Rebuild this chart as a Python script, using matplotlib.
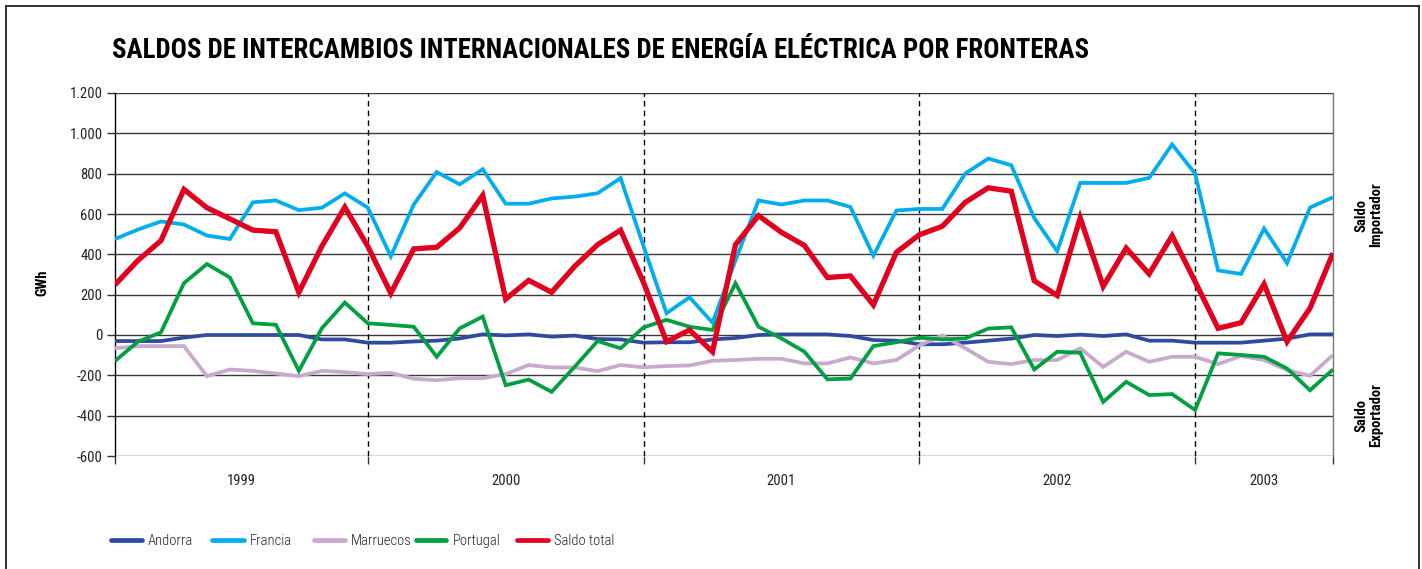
import matplotlib
matplotlib.use("Agg")
import matplotlib.pyplot as plt
from matplotlib import font_manager
from matplotlib.lines import Line2D
import numpy as np

# Monthly balances, January 1999 - June 2003 (GWh)
years = ["1999", "2000", "2001", "2002", "2003"]
months_per_year = [12, 12, 12, 12, 6]

andorra = [-30, -30, -30, -13, 0, 0, 0, 0, 0, -22, -22, -38,
           -38, -32, -28, -17, 3, -2, 3, -8, -3, -20, -22, -38,
           -36, -36, -22, -15, 0, 3, 3, 3, -5, -25, -28, -46,
           -46, -38, -28, -18, 0, -5, 2, -5, 3, -28, -28, -38,
           -38, -38, -28, -18, 3, 3]

francia = [476, 523, 563, 548, 493, 476, 658, 667, 619, 631, 702, 632,
           390, 647, 808, 747, 822, 651, 651, 677, 686, 703, 778, 440,
           108, 187, 61, 370, 667, 647, 667, 667, 635, 393, 617, 625,
           625, 801, 875, 842, 580, 415, 754, 754, 754, 779, 945, 800,
           320, 303, 528, 356, 632, 683]

marruecos = [-66, -55, -55, -55, -204, -171, -178, -191, -204, -178, -184, -194,
             -188, -217, -224, -214, -214, -194, -149, -161, -161, -179, -149, -160,
             -154, -151, -128, -124, -118, -118, -141, -141, -111, -141, -124, -52,
             -2, -66, -133, -144, -124, -124, -66, -158, -83, -133, -108, -108,
             -144, -104, -124, -174, -202, -99]

portugal = [-129, -33, 13, 257, 352, 285, 58, 51, -178, 33, 161, 58,
            50, 41, -108, 33, 91, -249, -221, -282, -158, -30, -66, 38,
            75, 41, 25, 257, 41, -17, -83, -220, -216, -55, -36, -13,
            -22, -17, 32, 38, -171, -83, -88, -332, -232, -298, -293, -372,
            -91, -99, -108, -166, -274, -171]

saldo_total = [249, 370, 468, 722, 631, 576, 520, 512, 211, 440, 634, 440,
               207, 427, 435, 531, 692, 178, 271, 212, 340, 448, 520, 260,
               -33, 25, -83, 448, 592, 509, 444, 285, 293, 149, 410, 497,
               539, 658, 730, 713, 269, 196, 581, 241, 431, 303, 492, 265,
               33, 61, 252, -33, 133, 406]

series_names = ["Andorra", "Francia", "Marruecos", "Portugal", "Saldo total"]
y_ticks = [-600, -400, -200, 0, 200, 400, 600, 800, 1000, 1200]

colors = ["#2E4B9E", "#00AEEF", "#C9A9CD", "#00A040", "#E2001F"]
widths = [2.7, 2.7, 2.7, 2.7, 3.8]

# Pick a narrow sans face when one is installed
available = {f.name for f in font_manager.fontManager.ttflist}
family = "DejaVu Sans"
for cand in ["Roboto Condensed", "Liberation Sans Narrow", "Open Sans Condensed",
             "Noto Sans Condensed", "Liberation Sans"]:
    if cand in available:
        family = cand
        break
plt.rcParams["font.family"] = [family, "DejaVu Sans"]

W, H = 1422, 569
fig = plt.figure(figsize=(W / 100, H / 100), dpi=100)
fig.patch.set_facecolor("white")


def fx(px):
    return px / W


def fy(py):
    return 1 - py / H


ax = fig.add_axes([fx(115), fy(456), fx(1333) - fx(115), fy(93) - fy(456)])

n = len(saldo_total)
x = np.arange(n)
data = [andorra, francia, marruecos, portugal, saldo_total]
for vals, c, lw, name in zip(data, colors, widths, series_names):
    ax.plot(x, vals, color=c, lw=lw, solid_joinstyle="miter",
            solid_capstyle="butt", label=name, zorder=3)

ax.set_xlim(0, n - 1)
ax.set_ylim(y_ticks[0], y_ticks[-1])

# Horizontal grid
ax.set_yticks(y_ticks)
ax.set_yticklabels([f"{v:,}".replace(",", ".") for v in y_ticks])
for v in y_ticks:
    ax.axhline(v, color="#3a3a3a", lw=1.0, zorder=1)

# Year boundaries (last month of each year)
bounds = list(np.cumsum(months_per_year) - 1)
for b in bounds[:-1]:
    ax.axvline(b, color="black", lw=1.0, ls=(0, (4, 3)), zorder=2)

tick_pos = [0] + bounds
ax.set_xticks(tick_pos)
ax.set_xticklabels([""] * len(tick_pos))
ax.tick_params(axis="x", length=6, width=1, color="#333333", direction="out")
label_edges = [0] + bounds
centers = [(label_edges[i] + label_edges[i + 1]) / 2 for i in range(len(years))]
for cx, yr in zip(centers, years):
    ax.text(cx, -0.07, yr, transform=ax.get_xaxis_transform(),
            ha="center", va="center", fontsize=10.5, color="#222222")

ax.tick_params(axis="y", length=6, width=1, color="#333333", direction="out",
               labelsize=10.5, labelcolor="#222222", pad=3)

for side in ["top", "bottom"]:
    ax.spines[side].set_visible(False)
ax.spines["left"].set_color("black")
ax.spines["left"].set_linewidth(1.0)
ax.spines["right"].set_color("#777777")
ax.spines["right"].set_linewidth(1.0)

# Axis titles
fig.text(fx(42), fy(283), "GWh", rotation=90, ha="center", va="center",
         fontsize=10.5, fontweight="bold")
fig.text(fx(1369), fy(215), "Saldo\nImportador", rotation=90, ha="center",
         va="center", fontsize=10.5, fontweight="bold", linespacing=1.0)
fig.text(fx(1369), fy(415), "Saldo\nExportador", rotation=90, ha="center",
         va="center", fontsize=10.5, fontweight="bold", linespacing=1.0)

# Title
fig.text(fx(112), fy(50), "SALDOS DE INTERCAMBIOS INTERNACIONALES DE ENERGÍA ELÉCTRICA POR FRONTERAS",
         ha="left", va="center", fontsize=19.4, fontweight="bold", color="black")

# Legend entries in fixed-width columns
for i, (name, c) in enumerate(zip(series_names, colors)):
    x0 = 111 + 101.5 * i
    fig.add_artist(Line2D([fx(x0), fx(x0 + 31)], [fy(540), fy(540)],
                          transform=fig.transFigure, color=c, lw=3.4,
                          solid_capstyle="round"))
    fig.text(fx(x0 + 37), fy(541), name, ha="left", va="center",
             fontsize=10.5, fontweight="light", color="#222222")

# Outer frame
frame_kw = dict(transform=fig.transFigure, color="#222222", lw=1.3)
fig.add_artist(Line2D([fx(6), fx(6)], [fy(6), fy(575)], **frame_kw))
fig.add_artist(Line2D([fx(6), fx(1419)], [fy(6), fy(6)], **frame_kw))
fig.add_artist(Line2D([fx(1419), fx(1419)], [fy(6), fy(575)], **frame_kw))

fig.savefig("out.png", dpi=100, facecolor="white")
